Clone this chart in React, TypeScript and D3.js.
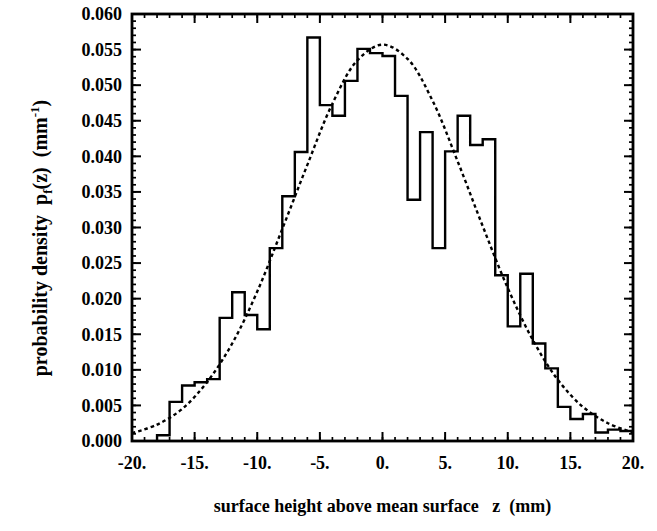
import React from "react";
import * as d3 from "d3";

// histogram: left bin edges (mm) and density per bin
const binEdges = [-18, -17, -16, -15, -14, -13, -12, -11, -10, -9, -8, -7, -6, -5, -4, -3, -2, -1,
  0, 1, 2, 3, 4, 5, 6, 7, 8, 9, 10, 11, 12, 13, 14, 15, 16, 17, 18, 19];
const binValues = [0.0008, 0.0055, 0.0078, 0.00825, 0.0087, 0.0173, 0.0209, 0.0177, 0.0157, 0.0271,
  0.0344, 0.0406, 0.0567, 0.0472, 0.0457, 0.0506, 0.0551, 0.0545,
  0.0541, 0.0485, 0.0339, 0.0434, 0.0271, 0.0407, 0.0457, 0.0416, 0.0424, 0.0233,
  0.0161, 0.0235, 0.0137, 0.0102, 0.0048, 0.0031, 0.0038, 0.0012, 0.0016, 0.0014];

// dotted fitted curve
const fitZ = [-20, -18, -16, -14, -12, -10, -8, -6, -4, -2, 0, 2, 4, 6, 8, 10, 12, 14, 16, 18, 20];
const fitP = [0.0011, 0.0023, 0.0045, 0.0083, 0.0137, 0.021, 0.0298, 0.0388, 0.0474, 0.0535, 0.0557,
  0.0537, 0.0478, 0.0393, 0.0302, 0.0215, 0.0142, 0.0086, 0.0048, 0.0025, 0.0012];

const xTicks = [-20, -15, -10, -5, 0, 5, 10, 15, 20];
const yTicks = [0, 0.005, 0.01, 0.015, 0.02, 0.025, 0.03, 0.035, 0.04, 0.045, 0.05, 0.055, 0.06];

const W = 657, H = 531;
const left = 132, right = 633, top = 14, bottom = 441;
const font = "'Liberation Serif', 'Times New Roman', serif";

export default function App() {
  const x = d3.scaleLinear().domain([-20, 20]).range([left, right]);
  const y = d3.scaleLinear().domain([0, 0.06]).range([bottom, top]);

  const xMinor = d3.range(-20, 20.001, 1);
  const yMinor = d3.range(0, 0.0601, 0.001);

  const stepPts: [number, number][] = [[binEdges[0], 0]];
  binEdges.forEach((e, i) => stepPts.push([e, binValues[i]]));
  stepPts.push([20, binValues[binValues.length - 1]]);

  const stepLine = d3.line<[number, number]>()
    .x(d => x(d[0])).y(d => y(d[1]))
    .curve(d3.curveStepAfter);

  // first point goes up vertically from baseline
  const histPath = d3.line<[number, number]>()
    .x(d => x(d[0])).y(d => y(d[1]))(stepPts.slice(0, 2))! + stepLine(stepPts.slice(1))!.replace(/^M/, "L");

  const fitLine = d3.line<number>()
    .x((d, i) => x(fitZ[i])).y(d => y(d))
    .curve(d3.curveCatmullRom)(fitP)!;

  return (
    <svg width={W} height={H} style={{ position: "absolute", left: 0, top: 0, background: "#fff" }}>
      <g stroke="#000" fill="none">
        {/* minor ticks */}
        {xMinor.map(v => (
          <g key={"xm" + v} strokeWidth={1.7}>
            <line x1={x(v)} x2={x(v)} y1={bottom} y2={bottom - 4} />
            <line x1={x(v)} x2={x(v)} y1={top} y2={top + 4} />
          </g>
        ))}
        {yMinor.map(v => (
          <g key={"ym" + v} strokeWidth={1.7}>
            <line x1={left} x2={left + 4} y1={y(v)} y2={y(v)} />
            <line x1={right} x2={right - 4} y1={y(v)} y2={y(v)} />
          </g>
        ))}
        {/* major ticks */}
        {xTicks.map(v => (
          <g key={"xM" + v} strokeWidth={2}>
            <line x1={x(v)} x2={x(v)} y1={bottom} y2={bottom - 9} />
            <line x1={x(v)} x2={x(v)} y1={top} y2={top + 9} />
          </g>
        ))}
        {yTicks.map(v => (
          <g key={"yM" + v} strokeWidth={2}>
            <line x1={left} x2={left + 9} y1={y(v)} y2={y(v)} />
            <line x1={right} x2={right - 9} y1={y(v)} y2={y(v)} />
          </g>
        ))}
        <rect x={left} y={top} width={right - left} height={bottom - top} strokeWidth={2.8} />

        <path d={histPath} strokeWidth={2.4} strokeLinejoin="miter" />
        <path d={fitLine} strokeWidth={2.4} strokeDasharray="3.5,3" />
      </g>

      <g fontFamily={font} fontWeight="bold" fontSize={18} fill="#000">
        {yTicks.map(v => (
          <text key={"yl" + v} x={left - 10} y={y(v)} dy="0.35em" textAnchor="end">
            {v.toFixed(3)}
          </text>
        ))}
        {xTicks.map(v => (
          <text key={"xl" + v} x={x(v)} y={469} textAnchor="middle">
            {v + "."}
          </text>
        ))}
      </g>

      <text x={(left + right) / 2} y={512} textAnchor="middle" fontFamily={font}
        fontWeight="bold" fontSize={18}>
        surface height above mean surface{"\u00a0\u00a0\u00a0"}z{"\u00a0\u00a0"}(mm)
      </text>

      <text transform={`translate(47,238) rotate(-90)`} textAnchor="middle"
        fontFamily={font} fontWeight="bold" fontSize={20}>
        probability density{"\u00a0\u00a0"}p
        <tspan fontSize={13} dy={5}>f</tspan>
        <tspan dy={-5}>(z){"\u00a0\u00a0"}(mm</tspan>
        <tspan fontSize={13} dy={-8}>-1</tspan>
        <tspan dy={8}>)</tspan>
      </text>
    </svg>
  );
}
